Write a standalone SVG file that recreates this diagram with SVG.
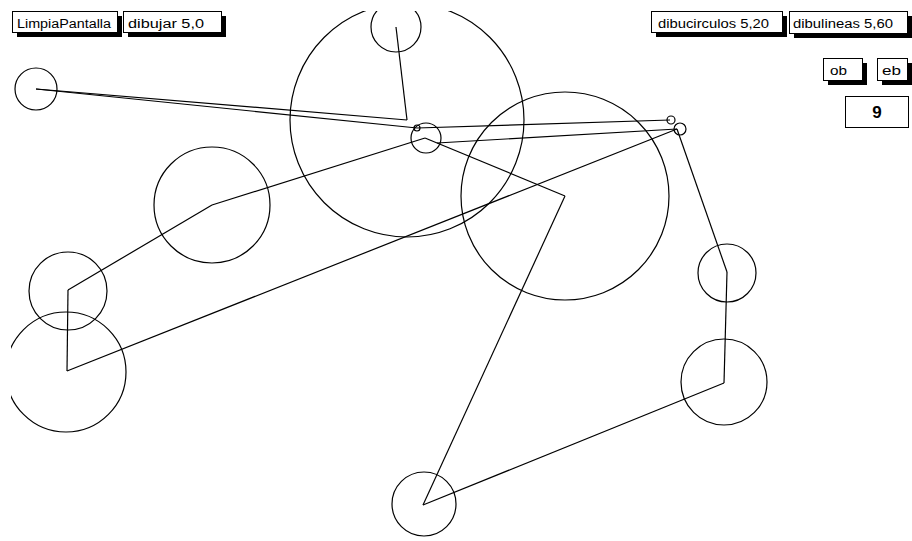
<svg xmlns="http://www.w3.org/2000/svg" width="912" height="541" viewBox="0 0 912 541">
<defs>
<style>
.c{fill:none;stroke:#000;stroke-width:1.2}
.l{fill:none;stroke:#000;stroke-width:1.2}
.sh{fill:#000;shape-rendering:crispEdges}
.bx{fill:#fff;stroke:#000;stroke-width:1;shape-rendering:crispEdges}
.t{font-family:"Liberation Sans",Arial,sans-serif;font-size:12px;fill:#000}
.n{font-family:"Liberation Sans",Arial,sans-serif;font-size:17px;font-weight:bold;fill:#000}
</style>
<clipPath id="area"><rect x="11" y="11" width="901" height="530"/></clipPath>
</defs>
<rect width="912" height="541" fill="#fff"/>
<g clip-path="url(#area)">
<g id="connectors">
<line class="l" x1="36" y1="89" x2="407" y2="120"/>
<line class="l" x1="407" y1="120" x2="396" y2="27"/>
<line class="l" x1="36" y1="89" x2="417" y2="128"/>
<line class="l" x1="417" y1="128" x2="670" y2="120"/>
<line class="l" x1="212" y1="205" x2="425" y2="138"/>
<line class="l" x1="425" y1="138" x2="565" y2="196"/>
<line class="l" x1="437" y1="143" x2="677" y2="129"/>
<line class="l" x1="212" y1="205" x2="68" y2="290"/>
<line class="l" x1="68" y1="290" x2="67" y2="371"/>
<line class="l" x1="67" y1="371" x2="677" y2="129"/>
<line class="l" x1="677" y1="129" x2="727" y2="272"/>
<line class="l" x1="727" y1="272" x2="724" y2="383"/>
<line class="l" x1="724" y1="383" x2="423" y2="505"/>
<line class="l" x1="423" y1="505" x2="565" y2="196"/>
</g>
<g id="c1"><circle class="c" cx="36" cy="89" r="21"/></g>
<g id="c2"><circle class="c" cx="396" cy="27" r="25"/></g>
<g id="c3"><circle class="c" cx="407" cy="120" r="117"/></g>
<g id="c4"><circle class="c" cx="417" cy="128" r="3"/></g>
<g id="c5"><circle class="c" cx="426" cy="138" r="15"/></g>
<g id="c6"><circle class="c" cx="565" cy="196" r="104"/></g>
<g id="c7"><circle class="c" cx="671" cy="120" r="4"/></g>
<g id="c8"><circle class="c" cx="680" cy="129" r="6"/></g>
<g id="c9"><circle class="c" cx="212" cy="205" r="58"/></g>
<g id="c10"><circle class="c" cx="68" cy="291" r="39"/></g>
<g id="c11"><circle class="c" cx="66" cy="372" r="60"/></g>
<g id="c12"><circle class="c" cx="727" cy="273" r="29"/></g>
<g id="c13"><circle class="c" cx="724" cy="382" r="43"/></g>
<g id="c14"><circle class="c" cx="424" cy="504" r="32"/></g>
</g>
<g id="btn-limpia">
<rect class="sh" x="17" y="16" width="105" height="21"/>
<rect class="bx" x="12.5" y="11.5" width="105" height="21"/>
<text class="t" x="17" y="28" textLength="94" lengthAdjust="spacingAndGlyphs">LimpiaPantalla</text>
</g>
<g id="btn-dibujar">
<rect class="sh" x="128" y="16" width="98" height="21"/>
<rect class="bx" x="123.5" y="11.5" width="98" height="21"/>
<text class="t" x="128" y="28" textLength="76" lengthAdjust="spacingAndGlyphs">dibujar 5,0</text>
</g>
<g id="btn-dibucirculos">
<rect class="sh" x="656" y="16" width="131" height="21"/>
<rect class="bx" x="651.5" y="11.5" width="131" height="21"/>
<text class="t" x="658" y="28" textLength="111" lengthAdjust="spacingAndGlyphs">dibucirculos 5,20</text>
</g>
<g id="btn-dibulineas">
<rect class="sh" x="794" y="16" width="118" height="22"/>
<rect class="bx" x="789.5" y="11.5" width="118" height="22"/>
<text class="t" x="793" y="28" textLength="100" lengthAdjust="spacingAndGlyphs">dibulineas 5,60</text>
</g>
<g id="btn-ob">
<rect class="sh" x="828" y="63" width="39" height="22"/>
<rect class="bx" x="823.5" y="58.5" width="39" height="22"/>
<text class="t" x="830" y="75" textLength="17" lengthAdjust="spacingAndGlyphs">ob</text>
</g>
<g id="btn-eb">
<rect class="sh" x="882" y="63" width="30" height="22"/>
<rect class="bx" x="877.5" y="58.5" width="30" height="22"/>
<text class="t" x="882" y="75" textLength="19" lengthAdjust="spacingAndGlyphs">eb</text>
</g>
<g id="display">
<rect class="bx" x="845.5" y="96.5" width="63" height="31"/>
<text class="n" x="877" y="118" text-anchor="middle">9</text>
</g>
</svg>
